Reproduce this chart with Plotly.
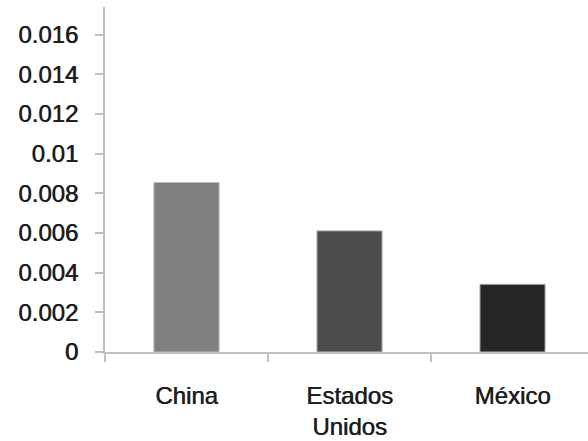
import plotly.graph_objects as go

# Data
categories = ["China", "Estados<br>Unidos", "México"]
values = [0.00855, 0.00611, 0.00342]
bar_colors = ["#808080", "#4d4d4d", "#262626"]
y_tick_vals = [0, 0.002, 0.004, 0.006, 0.008, 0.01, 0.012, 0.014, 0.016]
y_tick_text = ["0", "0.002", "0.004", "0.006", "0.008", "0.01", "0.012", "0.014", "0.016"]

axis_color = "#bfbfbf"
font_family = "Liberation Sans, Arial, sans-serif"
label_font = dict(
    family=font_family,
    size=24,
    color="#1e1e1e",
    shadow="0.6px 0 0 #1e1e1e",
)

fig = go.Figure(
    go.Bar(
        x=categories,
        y=values,
        width=0.4,
        marker=dict(color=bar_colors, line=dict(color="#bdbdbd", width=1)),
        hoverinfo="skip",
    )
)

fig.update_layout(
    width=588,
    height=441,
    margin=dict(l=105, r=0, t=7, b=89),
    paper_bgcolor="white",
    plot_bgcolor="white",
    showlegend=False,
    font=dict(family=font_family, size=24, color="#1e1e1e"),
)

fig.update_xaxes(
    type="category",
    range=[-0.5, 2.463],
    showline=True,
    linecolor=axis_color,
    linewidth=2,
    showgrid=False,
    ticks="outside",
    tickson="boundaries",
    ticklen=8,
    tickwidth=2,
    tickcolor=axis_color,
    ticklabelstandoff=21,
    tickfont=label_font,
)

fig.update_yaxes(
    range=[0, 0.0174],
    tickvals=y_tick_vals,
    ticktext=y_tick_text,
    showline=True,
    linecolor=axis_color,
    linewidth=2,
    showgrid=False,
    zeroline=False,
    ticks="outside",
    ticklen=8,
    tickwidth=2,
    tickcolor=axis_color,
    ticklabelstandoff=12,
    tickfont=label_font,
)

fig.write_html("out.html")
